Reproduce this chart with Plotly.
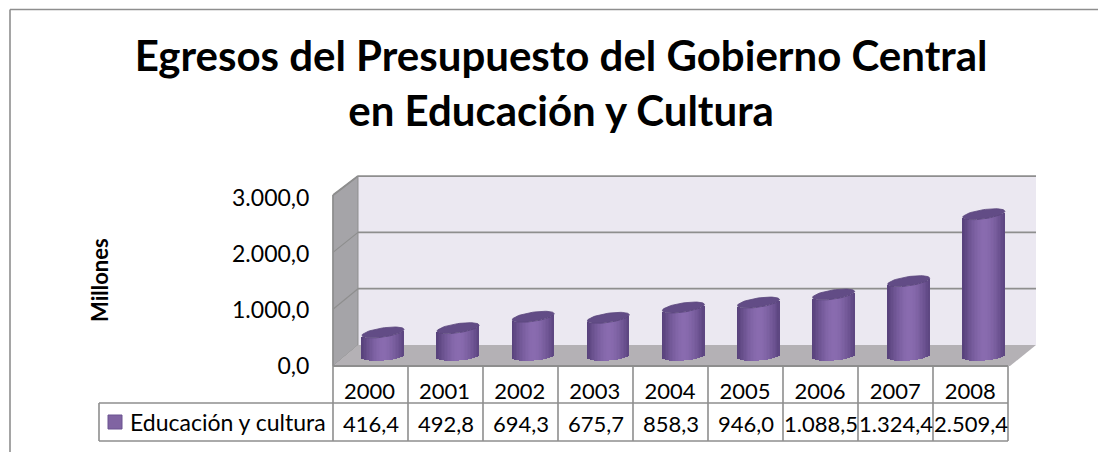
import numpy as np
import plotly.graph_objects as go

years = ["2000", "2001", "2002", "2003", "2004", "2005", "2006", "2007", "2008"]
values = [416.4, 492.8, 694.3, 675.7, 858.3, 946.0, 1088.5, 1324.4, 2509.4]
value_labels = ["416,4", "492,8", "694,3", "675,7", "858,3", "946,0", "1.088,5", "1.324,4", "2.509,4"]
series_name = "Educación y cultura"
title_lines = ["Egresos del Presupuesto del Gobierno Central", "en Educación y Cultura"]
axis_title = "Millones"
y_ticks = [0, 1000, 2000, 3000]
y_tick_labels = ["0,0", "1.000,0", "2.000,0", "3.000,0"]

W, H = 1098, 452
L, R, T, B = 333, 1036, 170, 366   # plot box, pixels
FONT = "Lato"
LINE = "#8e8e8e"
idx = np.arange(len(years))

x_range = [(L - 383) / 75.1, (R - 383) / 75.1]
col_shift = 13.5 / 75.1            # table columns sit in front of the cylinders
y_range = [0, (B - T) / 0.056]
y2_range = [-(B - 356) / 0.0565, (356 - T) / 0.0565]

A = 0.28                   # cylinder half width, in categories
b_val = 4.6 / 0.0565       # ellipse half height, in value units
k_top = 3.0 / 0.0565       # tilt of the top ellipse
k_bot = 1.6 / 0.0565       # tilt of the bottom ellipse


def shade(t):
    dark = np.array([88, 66, 124])
    light = np.array([138, 108, 176])
    m = max(0.0, 1 - abs((t - 0.05)) ** 1.6)
    c = dark + (light - dark) * m
    return "rgb(%d,%d,%d)" % tuple(c)


fig = go.Figure()

# anchors the front value axis so that its tick labels are drawn
fig.add_trace(go.Scatter(x=[idx[0]], y=[y_ticks[0]], mode="markers", opacity=0,
                         showlegend=False, hoverinfo="skip"))

# cylinder bodies, as narrow bars
N = 29
w = 2 * A / N
for k in range(N):
    t = -1 + (k + 0.5) * 2 / N
    front = -b_val * np.sqrt(1 - t ** 2)
    off_bot = front + k_bot * t
    off_top = front + k_top * t
    fig.add_trace(go.Bar(
        x=idx + t * A, y=[v + off_top - off_bot for v in values],
        base=[off_bot] * len(values), width=w * 1.15,
        yaxis="y2", marker=dict(color=shade(t), line=dict(width=0)),
        showlegend=False, hoverinfo="skip", name=series_name,
    ))

# cylinder tops
th = np.linspace(0, 2 * np.pi, 60)
for i, v in zip(idx, values):
    fig.add_trace(go.Scatter(
        x=i + A * np.cos(th),
        y=v + b_val * np.sin(th) + k_top * np.cos(th),
        yaxis="y2", mode="lines", fill="toself", fillcolor="#624c86",
        line=dict(color="#5a467c", width=0.8), showlegend=False, hoverinfo="skip",
    ))


def px(x):
    return (x - L) / (R - L)


def py(y):
    return (B - y) / (B - T)


def poly(points, fill, line=None, lw=0, layer="below"):
    d = "M " + " L ".join(f"{px(a):.5f},{py(c):.5f}" for a, c in points) + " Z"
    return dict(type="path", path=d, xref="paper", yref="paper", fillcolor=fill,
                line=dict(color=line or fill, width=lw), layer=layer)


def seg(x0, y0, x1, y1, lw=1.6, color=LINE):
    return dict(type="line", xref="paper", yref="paper", x0=px(x0), y0=py(y0),
                x1=px(x1), y1=py(y1), line=dict(color=color, width=lw), layer="below")


shapes = [
    seg(10, 9.5, W, 9.5, 1.6), seg(10, 9.5, 10, H, 1.6),
    poly([(358, 176), (1036, 176), (1036, 345), (358, 345)], "#ebe8f1"),
    poly([(333, 195), (358, 176), (358, 345), (333, 366)], "#a5a4a8", "#8e8e8e", 1),
    poly([(333, 366), (358, 345), (1036, 345), (1010, 366)], "#b4b1b5"),
]
for v in y_ticks[1:]:
    yb = 345 - v * 0.0563
    yf = 366 - v * 0.0568
    shapes.append(seg(358, yb, 1036, yb, 1.8))
    shapes.append(seg(333, yf, 358, yb, 1.2))
shapes.append(seg(333, 195, 358, 176, 1.6))
shapes.append(seg(333, 195, 333, 366, 1.6))

X0, XT, RW = 99, 333, 75
Y0, Y1, Y2 = 366, 403, 441
shapes.append(seg(XT, Y0, XT + 9 * RW, Y0, 1.8))
shapes.append(seg(X0, Y1, XT + 9 * RW, Y1, 1.6))
shapes.append(seg(X0, Y2, XT + 9 * RW, Y2, 1.6))
shapes.append(seg(X0, Y1, X0, Y2, 1.6))
for j in range(10):
    shapes.append(seg(XT + j * RW, Y0, XT + j * RW, Y2, 1.6))
shapes.append(dict(type="rect", xref="paper", yref="paper", x0=px(108), x1=px(122),
                   y0=py(429), y1=py(415), fillcolor="#8064a2",
                   line=dict(color="#6a5290", width=1), layer="above"))

annotations = [
    dict(text=f"<b>{axis_title}</b>", xref="paper", yref="paper", x=px(99), y=py(280),
         xanchor="center", yanchor="middle",
         textangle=-90, showarrow=False, font=dict(family=FONT, size=22, color="#000")),
    dict(text=series_name, xref="paper", yref="paper", x=px(128), y=py(422),
         xanchor="left", yanchor="middle", showarrow=False,
         font=dict(family=FONT, size=23, color="#000")),
]
for i, lab in zip(idx, value_labels):
    annotations.append(dict(text=lab, x=i - col_shift + 1 / 75.1, xref="x", yref="paper", y=py(423),
                            xanchor="center", yanchor="middle",
                            showarrow=False, font=dict(family=FONT, size=22, color="#000")))

fig.update_layout(
    width=W, height=H, autosize=False,
    margin=dict(l=L, r=W - R, t=T, b=H - B),
    paper_bgcolor="white", plot_bgcolor="rgba(0,0,0,0)",
    barmode="overlay", bargap=0, showlegend=False,
    title=dict(text="<br>".join(f"<b>{s}</b>" for s in title_lines),
               x=0.511, xanchor="center", y=1 - 71 / H, yanchor="middle",
               font=dict(family=FONT, size=42, color="#000")),
    xaxis=dict(range=x_range, tickmode="array", tickvals=idx - col_shift, ticktext=years,
               showgrid=False, zeroline=False, showline=False, ticks="outside",
               ticklen=6, tickcolor="rgba(0,0,0,0)",
               tickfont=dict(family=FONT, size=22, color="#000")),
    yaxis=dict(range=y_range, tickmode="array", tickvals=y_ticks, ticktext=y_tick_labels,
               showgrid=False, zeroline=False, showline=False, ticks="outside",
               ticklen=18, tickcolor="rgba(0,0,0,0)",
               tickfont=dict(family=FONT, size=23, color="#000")),
    yaxis2=dict(range=y2_range, overlaying="y", side="left", visible=False),
    shapes=shapes, annotations=annotations,
)

fig.write_html("out.html", config=dict(displayModeBar=False),
               post_script="document.body.style.margin='0';document.documentElement.style.overflow='hidden';")
